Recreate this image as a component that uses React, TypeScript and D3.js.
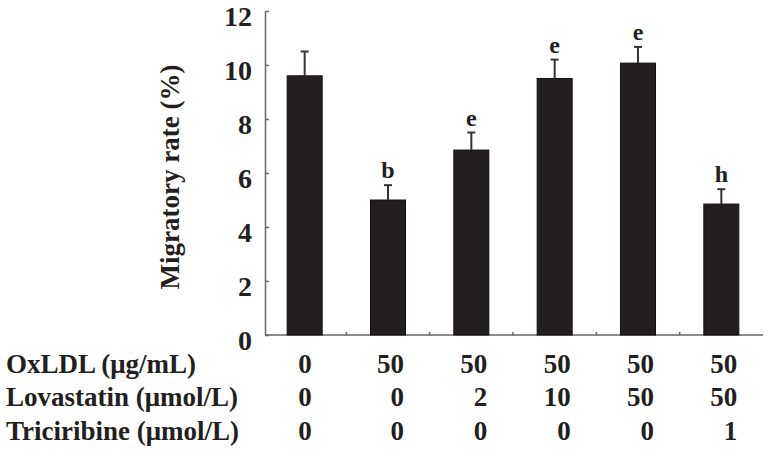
import { useEffect, useRef } from "react";
import * as d3 from "d3";

// bar heights and upward error bars (Migratory rate, %)
const groups = ["g1", "g2", "g3", "g4", "g5", "g6"];
const rates = [9.6, 5.0, 6.85, 9.5, 10.07, 4.85];
const errors = [0.9, 0.55, 0.65, 0.7, 0.6, 0.55];
const letters = ["", "b", "e", "e", "e", "h"];

// treatment table under the axis
const rowLabels = ["OxLDL (μg/mL)", "Lovastatin (μmol/L)", "Triciribine (μmol/L)"];
const oxldl = ["0", "50", "50", "50", "50", "50"];
const lovastatin = ["0", "0", "2", "10", "50", "50"];
const triciribine = ["0", "0", "0", "0", "0", "1"];

const yTicks = [0, 2, 4, 6, 8, 10, 12];

export default function App() {
  const ref = useRef<SVGSVGElement>(null);

  useEffect(() => {
    const width = 768;
    const height = 459;
    const font = "'Liberation Serif', 'Times New Roman', serif";
    const ink = "#231f20";

    const svg = d3.select(ref.current);
    svg.selectAll("*").remove();

    const x = d3.scaleBand().domain(groups).range([263, 763]).paddingInner(0.58).paddingOuter(0.29);
    const y = d3.scaleLinear().domain([0, 12]).range([335, 11]);
    const step = x.step();
    const cx = (i: number) => (x(groups[i]) ?? 0) + x.bandwidth() / 2;

    // y axis
    const yAxis = d3.axisLeft(y).tickValues(yTicks).tickSize(-4).tickPadding(13).tickSizeOuter(0);
    const gy = svg.append("g").attr("transform", "translate(265,0)").call(yAxis);
    gy.select(".domain").attr("stroke", "#666").attr("stroke-width", 1.5);
    gy.selectAll(".tick line").attr("stroke", "#666").attr("stroke-width", 1.5);
    gy.selectAll(".tick text")
      .attr("font-family", font)
      .attr("font-size", 28)
      .attr("font-weight", "bold")
      .attr("fill", ink)
      .attr("dy", "0.5em");

    // baseline with small category separators
    svg.append("line")
      .attr("x1", 265).attr("x2", 763)
      .attr("y1", y(0)).attr("y2", y(0))
      .attr("stroke", "#666").attr("stroke-width", 1.5);
    svg.append("g")
      .selectAll("line")
      .data(groups.slice(1))
      .join("line")
      .attr("x1", (d) => (x(d) ?? 0) - (step - x.bandwidth()) / 2)
      .attr("x2", (d) => (x(d) ?? 0) - (step - x.bandwidth()) / 2)
      .attr("y1", y(0))
      .attr("y2", y(0) - 3)
      .attr("stroke", "#666")
      .attr("stroke-width", 1.5);

    // bars
    svg.append("g")
      .selectAll("rect")
      .data(rates)
      .join("rect")
      .attr("x", (d, i) => x(groups[i]) ?? 0)
      .attr("y", (d) => y(d))
      .attr("width", x.bandwidth())
      .attr("height", (d) => y(0) - y(d))
      .attr("fill", ink)
      .attr("stroke", "#111")
      .attr("stroke-width", 1);

    // error bars (upper only)
    const eb = svg.append("g").attr("stroke", "#333").attr("stroke-width", 2);
    rates.forEach((r, i) => {
      const top = y(r + errors[i]);
      eb.append("line").attr("x1", cx(i)).attr("x2", cx(i)).attr("y1", y(r)).attr("y2", top);
      eb.append("line").attr("x1", cx(i) - 4).attr("x2", cx(i) + 4).attr("y1", top).attr("y2", top);
    });

    // significance letters
    svg.append("g")
      .selectAll("text")
      .data(letters)
      .join("text")
      .attr("x", (d, i) => cx(i))
      .attr("y", (d, i) => y(rates[i] + errors[i]) - 7)
      .attr("text-anchor", "middle")
      .attr("font-family", font)
      .attr("font-size", 24)
      .attr("font-weight", "bold")
      .attr("fill", ink)
      .text((d) => d);

    // y axis title
    svg.append("text")
      .attr("transform", "translate(179,177) rotate(-90)")
      .attr("text-anchor", "middle")
      .attr("font-family", font)
      .attr("font-size", 27)
      .attr("font-weight", "bold")
      .attr("fill", ink)
      .text("Migratory rate (%)");

    // treatment table
    const rows = [oxldl, lovastatin, triciribine];
    const baselines = [373, 406, 440];
    rows.forEach((row, r) => {
      svg.append("text")
        .attr("x", 6)
        .attr("y", baselines[r])
        .attr("font-family", font)
        .attr("font-size", 27)
        .attr("font-weight", "bold")
        .attr("fill", ink)
        .text(rowLabels[r]);
      svg.append("g")
        .selectAll("text")
        .data(row)
        .join("text")
        .attr("x", (d, i) => {
          const wide = rows.some((rr) => rr[i].length > 1);
          return cx(i) + (wide ? 16 : 7);
        })
        .attr("y", baselines[r])
        .attr("text-anchor", "end")
        .attr("font-family", font)
        .attr("font-size", 27)
        .attr("font-weight", "bold")
        .attr("fill", ink)
        .text((d) => d);
    });

    svg.attr("width", width).attr("height", height);
  }, []);

  return (
    <div style={{ position: "absolute", left: 0, top: 0, background: "#fff" }}>
      <svg ref={ref} width={768} height={459} style={{ display: "block" }} />
    </div>
  );
}
